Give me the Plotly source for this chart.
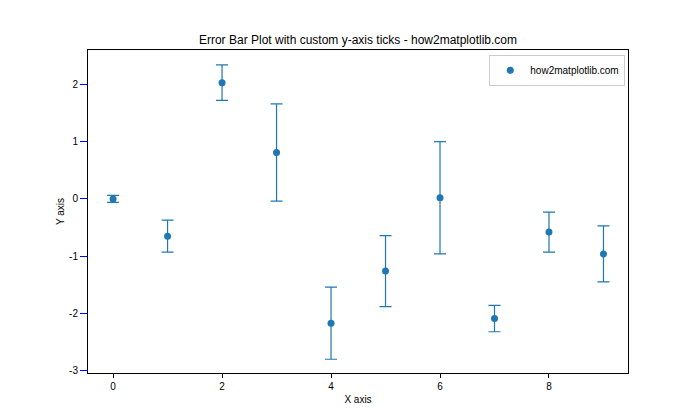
import plotly.graph_objects as go

x_vals = [0, 1, 2, 3, 4, 5, 6, 7, 8, 9]
y_vals = [0.0, -0.65, 2.03, 0.81, -2.17, -1.26, 0.02, -2.09, -0.58, -0.96]
y_err = [0.06, 0.28, 0.31, 0.85, 0.63, 0.62, 0.98, 0.23, 0.35, 0.49]
x_ticks = [0, 2, 4, 6, 8]
y_ticks = [-3, -2, -1, 0, 1, 2]
y_tick_labels = ["-3", "-2", "-1", "0", "1", "2"]

color = "#1f77b4"
fig = go.Figure()
fig.add_trace(go.Scatter(
    x=x_vals, y=y_vals, mode="markers", name="how2matplotlib.com",
    marker=dict(color=color, size=7),
    error_y=dict(type="data", array=y_err, visible=True, color=color, thickness=1.2, width=6),
))

font = "Liberation Sans, Arial, sans-serif"
fig.update_layout(
    width=700, height=420,
    margin=dict(l=88, r=72, t=50, b=47),
    paper_bgcolor="white", plot_bgcolor="white",
    font=dict(family=font, size=10, color="black"),
    title=dict(text="Error Bar Plot with custom y-axis ticks - how2matplotlib.com",
               x=0.5, xref="paper", xanchor="center", y=1, yref="paper", yanchor="bottom",
               pad=dict(b=6), font=dict(size=12)),
    showlegend=True,
    legend=dict(x=0.995, y=0.985, xanchor="right", yanchor="top",
                bgcolor="rgba(255,255,255,0.8)", bordercolor="#cccccc", borderwidth=1,
                font=dict(size=10), itemwidth=30),
)
fig.update_xaxes(
    range=[-0.46, 9.45], tickvals=x_ticks, ticks="outside", ticklen=4, tickcolor="black",
    showline=True, linecolor="black", linewidth=1, mirror=True, showgrid=False, zeroline=False,
    title=dict(text="X axis", standoff=4, font=dict(size=10)),
)
fig.update_yaxes(
    range=[-3.04, 2.6], tickvals=y_ticks, ticktext=y_tick_labels,
    ticks="outside", ticklen=7, tickcolor="blue", tickwidth=1.2,
    showline=True, linecolor="black", linewidth=1, mirror=True, showgrid=False, zeroline=False,
    title=dict(text="Y axis", standoff=2, font=dict(size=10)),
)
fig.write_html("out.html")
